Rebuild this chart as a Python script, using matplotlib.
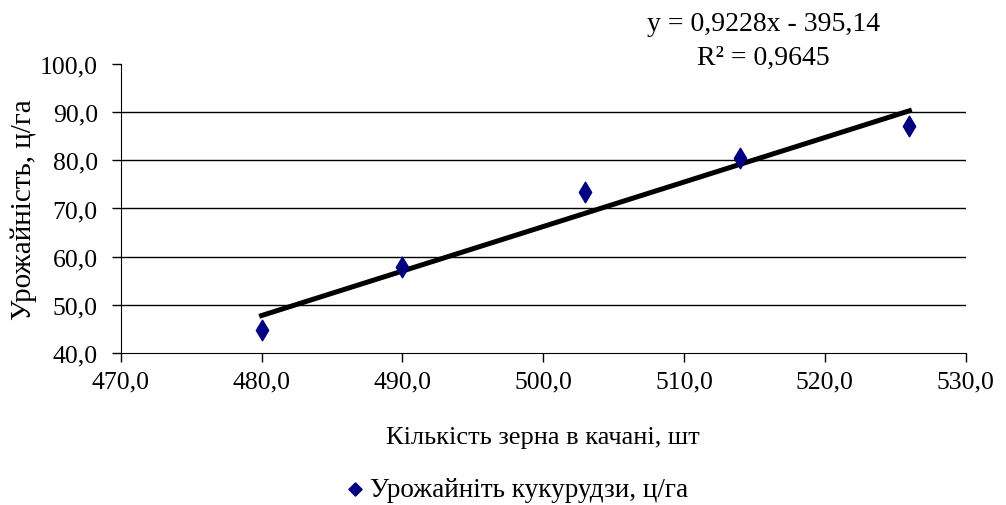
import numpy as np
import matplotlib.pyplot as plt
import matplotlib.ticker as ticker

# кількість зерна в качані, шт / урожайність, ц/га
kernels = [480, 490, 503, 514, 526]
yield_cha = [44.8, 57.8, 73.4, 80.4, 87.1]
slope = 0.9228
intercept = -395.14
r2 = 0.9645

plt.rcParams['font.family'] = ['Liberation Serif', 'DejaVu Serif']

fig = plt.figure(figsize=(10.06, 5.06), dpi=100)
ax = fig.add_axes([0.120, 0.300, 0.840, 0.572])

ax.scatter(kernels, yield_cha, marker='d', s=110, color='#000080', zorder=3)
xt = np.array([min(kernels), max(kernels)])
ax.plot(xt, slope * xt + intercept, color='black', lw=3.6, zorder=2)

ax.set_xlim(470, 530)
ax.set_ylim(40, 100)
ax.xaxis.set_major_locator(ticker.MultipleLocator(10))
ax.yaxis.set_major_locator(ticker.MultipleLocator(10))
fmt = ticker.FuncFormatter(lambda v, p: f'{v:.1f}'.replace('.', ','))
ax.xaxis.set_major_formatter(fmt)
ax.yaxis.set_major_formatter(fmt)
ax.tick_params(labelsize=18.5, length=6.5, width=1, direction='out', color='black')
ax.tick_params(axis='y', pad=10)
ax.tick_params(axis='x', pad=6)
for y in [50, 60, 70, 80, 90]:
    ax.axhline(y, color='black', lw=1, zorder=1)
ax.spines['top'].set_visible(False)
ax.spines['right'].set_visible(False)

ax.set_xlabel('Кількість зерна в качані, шт', fontsize=19, labelpad=24)
ax.set_ylabel('Урожайність, ц/га', fontsize=21, labelpad=2)

eq = f'y = {slope:.4f}x - {abs(intercept):.2f}'.replace('.', ',')
fig.text(0.759, 0.952, eq, ha='center', va='center', fontsize=20)
fig.text(0.759, 0.885, f'R² = {r2:.4f}'.replace('.', ','), ha='center', va='center', fontsize=20)

ax.scatter([], [], marker='D', s=45, color='#000080', label='Урожайніть кукурудзи, ц/га')
h, l = ax.get_legend_handles_labels()
fig.legend(h[-1:], l[-1:], loc='center', bbox_to_anchor=(0.512, 0.030), frameon=False,
           fontsize=19.5, handletextpad=0.05, handlelength=1.0, scatterpoints=1)

fig.savefig('out.png', dpi=100)
